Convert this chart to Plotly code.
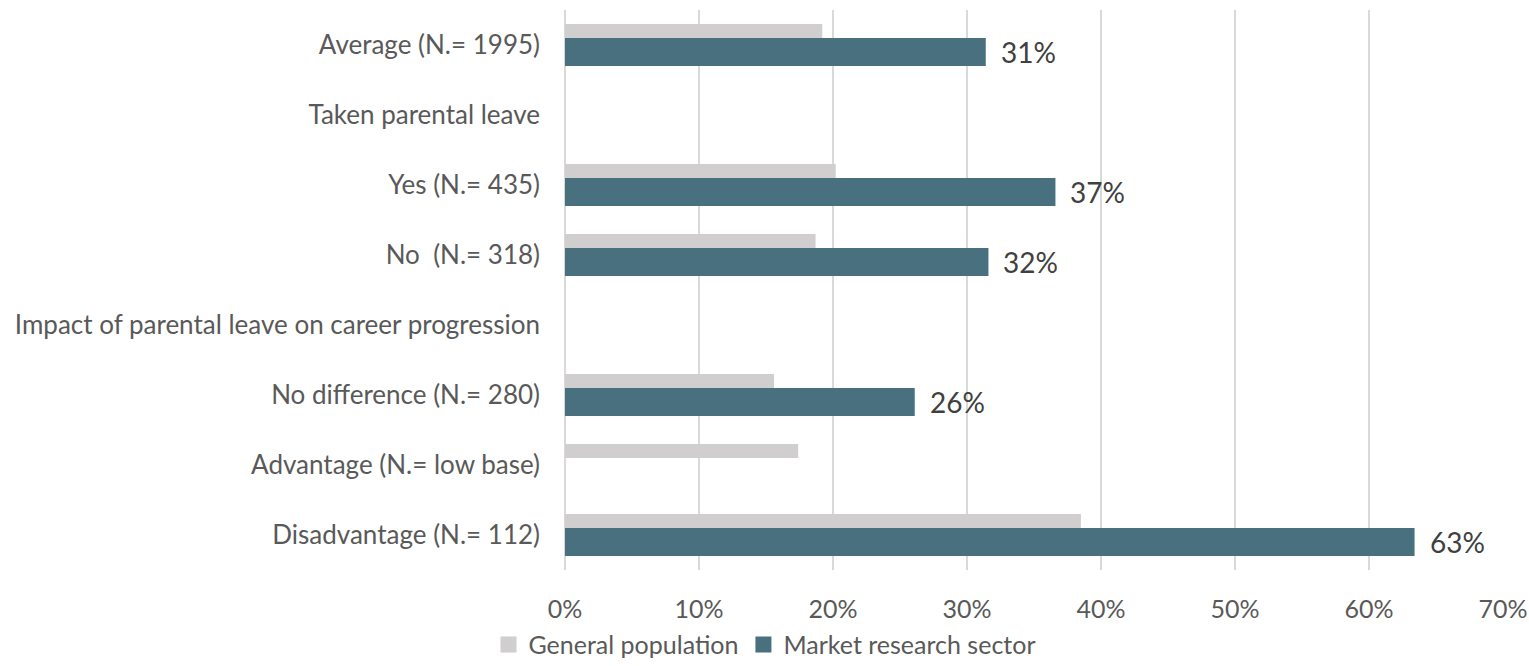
import plotly.graph_objects as go

# Row labels, top to bottom (two rows are section headings with no bars)
categories = [
    "Average (N.= 1995)",
    "Taken parental leave",
    "Yes (N.= 435)",
    "No  (N.= 318)",
    "Impact of parental leave on career progression",
    "No difference (N.= 280)",
    "Advantage (N.= low base)",
    "Disadvantage (N.= 112)",
]

# Shares (fractions)
general_population = [0.192, None, 0.202, 0.187, None, 0.156, 0.174, 0.385]
market_research = [0.314, None, 0.366, 0.316, None, 0.261, None, 0.634]

series_names = ["General population", "Market research sector"]

tick_values = [0, 0.1, 0.2, 0.3, 0.4, 0.5, 0.6, 0.7]
tick_labels = ["0%", "10%", "20%", "30%", "40%", "50%", "60%", "70%"]

GREY_BAR = "#D0CECE"
TEAL_BAR = "#48707E"
TEXT = "#595959"
FONT = "Lato"

fig = go.Figure()

fig.add_trace(go.Bar(
    name=series_names[0],
    y=categories,
    x=general_population,
    orientation="h",
    marker=dict(color=GREY_BAR, line=dict(width=0)),
    width=0.2,
    offset=-0.3,
    showlegend=False,
    hoverinfo="x+y",
))

fig.add_trace(go.Bar(
    name=series_names[1],
    y=categories,
    x=market_research,
    orientation="h",
    marker=dict(color=TEAL_BAR, line=dict(width=0)),
    width=0.4,
    offset=-0.1,
    showlegend=False,
    hoverinfo="x+y",
))

# Legend entries with square swatches
for name, color in zip(series_names, [GREY_BAR, TEAL_BAR]):
    fig.add_trace(go.Scatter(
        name=name,
        x=[None], y=[None],
        mode="markers",
        marker=dict(symbol="square", size=16, color=color, line=dict(width=0)),
        showlegend=True,
        hoverinfo="skip",
    ))

# Value labels to the right of the sector bars
annotations = []
for cat, val in zip(categories, market_research):
    if val is None:
        continue
    annotations.append(dict(
        x=val, y=cat, xref="x", yref="y",
        text=f"{val:.0%}",
        showarrow=False,
        xanchor="left", yanchor="middle",
        xshift=13, yshift=-7,
        font=dict(family=FONT, size=28, color="#404040"),
    ))

fig.update_layout(
    width=1529,
    height=666,
    margin=dict(l=565, r=26, t=10, b=96, autoexpand=False),
    paper_bgcolor="white",
    plot_bgcolor="white",
    barmode="overlay",
    font=dict(family=FONT, size=25, color=TEXT),
    annotations=annotations,
    showlegend=True,
    legend=dict(
        orientation="h",
        xref="container", yref="container",
        x=0.5, xanchor="center",
        y=0.032, yanchor="middle",
        font=dict(family=FONT, size=25, color=TEXT),
        traceorder="normal",
        itemsizing="trace",
        itemwidth=30,
        bgcolor="rgba(0,0,0,0)",
    ),
    xaxis=dict(
        range=[0, 0.7],
        tickvals=tick_values,
        ticktext=tick_labels,
        showgrid=True,
        gridcolor="#D9D9D9",
        gridwidth=2,
        zeroline=True,
        zerolinecolor="#D9D9D9",
        zerolinewidth=2,
        showline=False,
        ticks="",
        ticklabelstandoff=22,
        tickfont=dict(family=FONT, size=25, color=TEXT),
        fixedrange=True,
    ),
    yaxis=dict(
        type="category",
        categoryorder="array",
        categoryarray=categories,
        autorange="reversed",
        showgrid=False,
        zeroline=False,
        showline=False,
        ticks="",
        ticklabelstandoff=24,
        tickfont=dict(family=FONT, size=26, color=TEXT),
        fixedrange=True,
    ),
)

fig.write_html("out.html")
